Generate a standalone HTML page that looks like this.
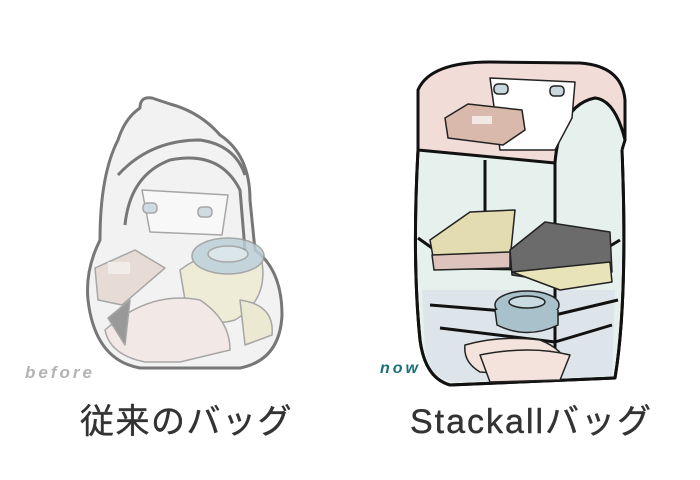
<!DOCTYPE html>
<html><head><meta charset="utf-8"><style>
body{margin:0;background:#fff;width:700px;height:480px;overflow:hidden}
svg{display:block}
text{font-family:"Liberation Sans","Noto Sans CJK JP",sans-serif}
</style></head><body>
<svg width="700" height="480" viewBox="0 0 700 480">
<!-- BEFORE backpack -->
<g stroke="#777" stroke-width="3" fill="none" stroke-linejoin="round">
<path d="M140 108 Q140 96 152 98 L170 104 Q200 112 220 135 Q250 155 250 200 L255 250 Q282 270 282 315 Q280 360 240 368 L140 368 Q95 360 88 300 Q85 270 100 240 Q100 175 118 140 Q125 118 140 108 Z" fill="#f2f2f2"/>
<path d="M118 175 Q150 140 200 140 Q235 145 245 175"/>
<path d="M125 225 Q130 175 170 160 Q220 150 240 190 L245 250"/>
</g>
<g stroke="#999" stroke-width="1.5" stroke-linejoin="round" opacity="0.85">
<path d="M142 190 L228 195 L222 235 L150 232 Z" fill="#fafafa"/>
<rect x="143" y="203" width="14" height="10" rx="4" fill="#c8d8de"/>
<rect x="198" y="207" width="14" height="10" rx="4" fill="#c8d8de"/>
<path d="M180 270 Q220 240 262 262 Q268 300 235 320 Q200 330 185 300 Z" fill="#eeecd2"/>
<ellipse cx="228" cy="256" rx="36" ry="18" fill="#bccfd7"/>
<ellipse cx="228" cy="254" rx="20" ry="8" fill="#d8e4e9"/>
<path d="M95 268 L135 250 L165 268 L122 305 L98 300 Z" fill="#e6d8d2"/>
<rect x="108" y="262" width="22" height="12" fill="#f3ece8" stroke="none"/>
<path d="M105 330 Q150 290 200 300 Q230 320 230 350 L180 362 L145 362 Q110 355 105 330 Z" fill="#f3e8e4"/>
<path d="M108 318 L130 300 L125 345 Z" fill="#8a8a8a"/>
<path d="M240 300 Q275 305 272 335 L245 345 Z" fill="#ebe8cd"/>
</g>
<text x="25" y="378" font-size="17" font-weight="bold" font-style="italic" fill="#b3b3b3" letter-spacing="3">before</text>
<text x="80" y="433" font-size="34" fill="#333" letter-spacing="1.5" stroke="#333" stroke-width="0.4">従来のバッグ</text>

<!-- NOW shelf bag -->
<g stroke="#111" stroke-width="3" stroke-linejoin="round" fill="none">
<path d="M418 150 Q412 260 420 340 Q425 378 450 385 L615 378 Q628 300 622 150 Z" fill="#e6f0ec"/>
<path d="M422 290 L425 350 Q430 378 452 382 L612 376 L615 290 Z" fill="#dde5ea" stroke="none"/>
<path d="M418 150 L418 90 Q430 62 490 62 L580 63 Q622 66 625 100 L625 140 Q615 100 595 98 Q560 105 555 163 Z" fill="#f1dcd8"/>
<path d="M555 163 Q560 105 595 98 Q615 100 625 140 L623 165 Z" fill="#e6f0ec" stroke="none"/>
<path d="M555 163 Q560 105 595 98 Q615 100 625 140"/>
<path d="M418 238 L460 268 L570 270 L620 240"/>
<path d="M430 305 L555 315 L618 300"/>
<path d="M440 328 L555 342 L612 325"/>
<path d="M555 163 L555 380"/>
<path d="M485 160 L485 240"/>
<path d="M418 150 Q412 260 420 340 Q425 378 450 385 L615 378 Q628 300 622 150"/>
<path d="M625 140 L622 150"/>
</g>
<g stroke="#222" stroke-width="1.5" stroke-linejoin="round">
<path d="M490 78 L575 82 L572 118 L555 150 L500 150 Z" fill="#fff"/>
<rect x="494" y="84" width="14" height="10" rx="4" fill="#c8d8de"/>
<rect x="550" y="86" width="14" height="10" rx="4" fill="#c8d8de"/>
<path d="M445 118 L468 104 L522 110 L525 130 L503 145 L448 138 Z" fill="#d9b9ab"/>
<rect x="472" y="116" width="20" height="8" fill="#f2e8e4" stroke="none"/>
<path d="M430 240 L470 212 L515 210 L510 260 L435 268 Z" fill="#e3dcb0"/>
<path d="M432 255 L510 252 L510 268 L434 270 Z" fill="#dcc4bc"/>
<path d="M510 250 L545 222 L610 232 L612 272 L560 282 L512 275 Z" fill="#6b6b6b"/>
<path d="M512 272 L610 262 L612 282 L560 290 Z" fill="#e8e3b8"/>
<ellipse cx="527" cy="305" rx="32" ry="14" fill="#a9c1cb"/>
<ellipse cx="527" cy="302" rx="18" ry="6" fill="#c9dbe1"/>
<path d="M495 310 L497 325 Q527 340 558 325 L558 310" fill="#a9c1cb"/>
<path d="M465 345 Q500 335 540 340 Q565 350 565 365 L520 375 L480 372 Q463 362 465 345 Z" fill="#f4e3dc"/>
<path d="M480 355 Q530 345 570 355 L560 380 L490 382 Z" fill="#f4e3dc"/>
</g>
<text x="380" y="373" font-size="16" font-weight="bold" font-style="italic" fill="#1b6f79" letter-spacing="3">now</text>
<text x="410" y="433" font-size="34" fill="#333" letter-spacing="2" stroke="#333" stroke-width="0.4">Stackallバッグ</text>
</svg>
</body></html>
